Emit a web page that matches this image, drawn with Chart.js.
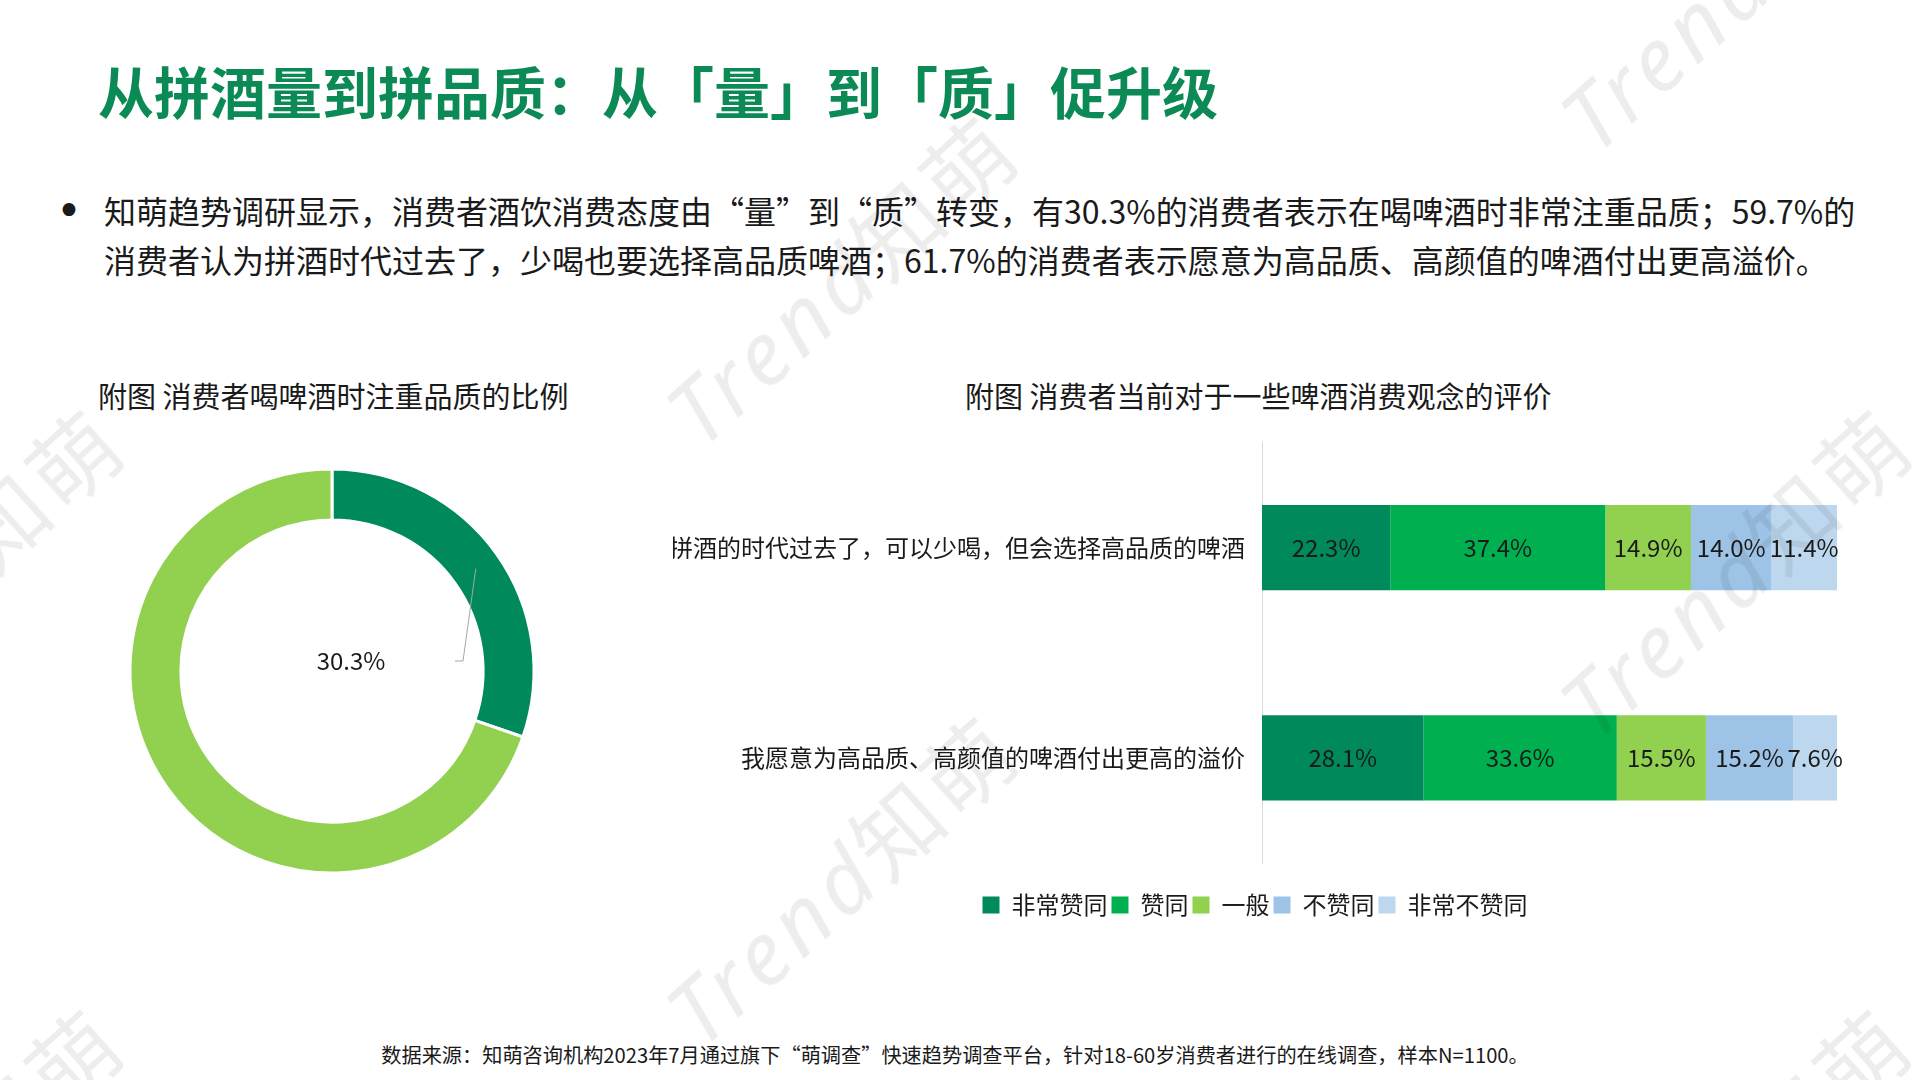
<!DOCTYPE html>
<html>
<head>
<meta charset="utf-8">
<script src="https://cdn.jsdelivr.net/npm/chart.js@4.4.1/dist/chart.umd.min.js"></script>
<style>
  html, body { margin:0; padding:0; background:#fff; }
  body { width:1920px; height:1080px; position:relative; overflow:hidden;
         font-family:"Microsoft YaHei","Noto Sans CJK SC","Noto Sans",sans-serif; color:#1a1a1a; }
  .abs { position:absolute; white-space:nowrap; }
  #title { left:98px; top:56px; font-size:56px; line-height:68px; font-weight:700; color:#0b8a56; }
  #bullet { left:56px; top:186px; font-size:44px; line-height:49px; font-family:"DejaVu Sans",sans-serif; }
  #para { left:104px; top:186px; font-size:32px; line-height:49px; }
  .sub { font-size:29px; line-height:40px; top:375px; }
  #foot { left:0; width:1910px; text-align:center; top:1040px; font-size:20.2px; line-height:30px; }
  .wm { position:absolute; white-space:nowrap; font-size:88px; letter-spacing:6px; color:rgba(0,0,0,0.07);
        transform:translate(-50%,-50%) rotate(-42deg); pointer-events:none; font-family:"Noto Sans","Noto Sans CJK SC",sans-serif; z-index:10; }
  .wm i { font-style:italic; font-weight:400; }
</style>
</head>
<body>
<div id="title" class="abs">从拼酒量到拼品质：从「量」到「质」促升级</div>
<div id="bullet" class="abs">•</div>
<div id="para" class="abs">知萌趋势调研显示，消费者酒饮消费态度由“量”到“质”转变，有30.3%的消费者表示在喝啤酒时非常注重品质；59.7%的<br>消费者认为拼酒时代过去了，少喝也要选择高品质啤酒；61.7%的消费者表示愿意为高品质、高颜值的啤酒付出更高溢价。</div>
<div class="abs sub" style="left:98px;">附图 消费者喝啤酒时注重品质的比例</div>
<div class="abs sub" style="left:965px;">附图 消费者当前对于一些啤酒消费观念的评价</div>

<div class="abs" style="left:112px; top:451px; width:440px; height:440px;"><canvas id="donut"></canvas></div>
<div class="abs" style="left:600px; top:411px; width:1267px; height:516px;"><canvas id="bars"></canvas></div>

<div id="foot" class="abs">数据来源：知萌咨询机构2023年7月通过旗下“萌调查”快速趋势调查平台，针对18-60岁消费者进行的在线调查，样本N=1100。</div>

<div class="wm" style="left:839px; top:276px;"><i>Trend</i>知萌</div>
<div class="wm" style="left:1733px; top:569px;"><i>Trend</i>知萌</div>
<div class="wm" style="left:839px; top:876px;"><i>Trend</i>知萌</div>
<div class="wm" style="left:1733px; top:-18px;"><i>Trend</i>知萌</div>
<div class="wm" style="left:-55px; top:569px;"><i>Trend</i>知萌</div>
<div class="wm" style="left:-55px; top:1169px;"><i>Trend</i>知萌</div>
<div class="wm" style="left:1733px; top:1169px;"><i>Trend</i>知萌</div>

<script>
// ---- Data ----
const donutLabels = ['非常注重品质', '其他'];
const donutValues = [30.3, 69.7];

const categories = ['拼酒的时代过去了，可以少喝，但会选择高品质的啤酒', '我愿意为高品质、高颜值的啤酒付出更高的溢价'];
const seriesNames = ['非常赞同', '赞同', '一般', '不赞同', '非常不赞同'];
const veryAgree    = [22.3, 28.1];
const agree        = [37.4, 33.6];
const neutral      = [14.9, 15.5];
const disagree     = [14.0, 15.2];
const veryDisagree = [11.4, 7.6];

// ---- Styles ----
const FONT = '"Microsoft YaHei","Noto Sans CJK SC","Noto Sans",sans-serif';
const barColors = ['#00895a', '#00b050', '#92d050', '#9dc3e6', '#bdd7ee'];
const donutColors = ['#00895a', '#92d050'];

Chart.defaults.font.family = FONT;
Chart.defaults.color = '#1a1a1a';

// ---- Donut ----
const donutLabelPlugin = {
  id: 'donutLabel',
  afterDatasetsDraw(chart) {
    const arc = chart.getDatasetMeta(0).data[0];
    const {x, y, startAngle, endAngle, innerRadius, outerRadius} = arc.getProps(['x','y','startAngle','endAngle','innerRadius','outerRadius'], true);
    const mid = (startAngle + endAngle) / 2;
    const r = (innerRadius + outerRadius) / 2;
    const sx = x + Math.cos(mid) * r, sy = y + Math.sin(mid) * r;
    const ctx = chart.ctx;
    ctx.save();
    ctx.strokeStyle = '#a6a6a6';
    ctx.lineWidth = 1;
    ctx.beginPath();
    ctx.moveTo(sx, sy);
    ctx.lineTo(x + 131, y - 10);
    ctx.lineTo(x + 123, y - 10);
    ctx.stroke();
    ctx.fillStyle = '#1a1a1a';
    ctx.font = '24px ' + FONT;
    ctx.textAlign = 'center';
    ctx.textBaseline = 'middle';
    ctx.fillText(donutValues[0].toFixed(1) + '%', x + 19, y - 10);
    ctx.restore();
  }
};

new Chart(document.getElementById('donut'), {
  type: 'doughnut',
  data: { labels: donutLabels, datasets: [{ data: donutValues, backgroundColor: donutColors, borderColor: '#ffffff', borderWidth: 3 }] },
  options: {
    responsive: true, maintainAspectRatio: false, animation: false,
    radius: 202, cutout: '74.8%',
    plugins: { legend: { display: false }, tooltip: { enabled: false } }
  },
  plugins: [donutLabelPlugin]
});

// ---- Stacked bars ----
const barLabelPlugin = {
  id: 'barLabels',
  afterDatasetsDraw(chart) {
    const ctx = chart.ctx;
    ctx.save();
    ctx.fillStyle = '#1a1a1a';
    ctx.font = '24px ' + FONT;
    ctx.textAlign = 'center';
    ctx.textBaseline = 'middle';
    chart.data.datasets.forEach((ds, di) => {
      const meta = chart.getDatasetMeta(di);
      meta.data.forEach((bar, i) => {
        const p = bar.getProps(['x','y','base'], true);
        ctx.fillText(ds.data[i].toFixed(1) + '%', (p.x + p.base) / 2, p.y);
      });
    });
    ctx.restore();
  }
};

const seriesData = [veryAgree, agree, neutral, disagree, veryDisagree];
new Chart(document.getElementById('bars'), {
  type: 'bar',
  data: {
    labels: categories,
    datasets: seriesNames.map((n, i) => ({
      label: n, data: seriesData[i], backgroundColor: barColors[i],
      barPercentage: 0.405, categoryPercentage: 1.0, borderWidth: 0
    }))
  },
  options: {
    indexAxis: 'y',
    responsive: true, maintainAspectRatio: false, animation: false,
    layout: { padding: { left: 73, right: 30, top: 0, bottom: 0 } },
    scales: {
      x: { stacked: true, min: 0, max: 100, display: true,
           ticks: { display: false }, grid: { display: false, drawTicks: false }, border: { display: false },
           afterFit(scale) { scale.height = 26; } },
      y: { stacked: true,
           ticks: { font: { size: 24 }, color: '#1a1a1a', padding: 17 },
           grid: { display: false, drawTicks: false },
           border: { display: true, color: '#d9d9d9', width: 1 },
           afterFit(scale) { scale.width = 589; } }
    },
    plugins: {
      tooltip: { enabled: false },
      legend: { position: 'bottom',
        labels: { boxWidth: 17, boxHeight: 17, padding: 4, font: { size: 24 }, color: '#1a1a1a' } }
    }
  },
  plugins: [barLabelPlugin]
});
</script>
</body>
</html>
